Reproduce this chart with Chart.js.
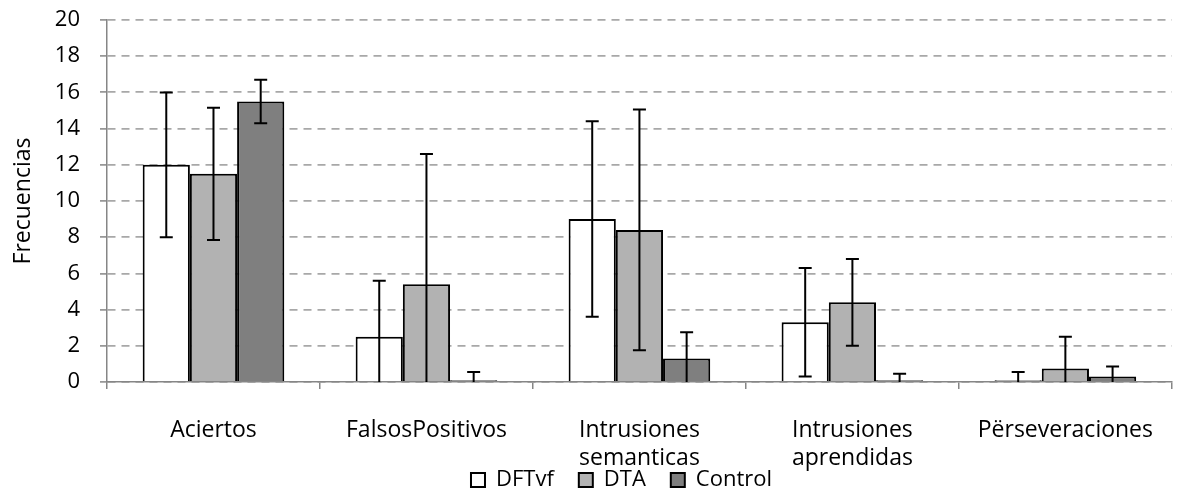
<!DOCTYPE html>
<html>
<head>
<meta charset="utf-8">
<script src="https://cdn.jsdelivr.net/npm/chart.js@4/dist/chart.umd.min.js"></script>
<style>
  html, body { margin: 0; padding: 0; background: #ffffff; }
  #wrap { width: 1181px; height: 493px; position: relative; }
</style>
</head>
<body>
<div id="wrap"><canvas id="chart" width="1181" height="493"></canvas></div>
<script>
// Categories of responses
const categories = [
  'Aciertos',
  'FalsosPositivos',
  ['Intrusiones', 'semanticas'],
  ['Intrusiones', 'aprendidas'],
  'Përseveraciones'
];

// Mean frequencies per group
const dftvf   = [12.0, 2.5, 9.0, 3.3, 0.1];
const dta     = [11.5, 5.4, 8.4, 4.4, 0.75];
const control = [15.5, 0.1, 1.3, 0.1, 0.3];

// Error bar half-lengths per group
const dftvfErr   = [4.0, 3.1, 5.4, 3.0, 0.45];
const dtaErr     = [3.65, 7.2, 6.65, 2.4, 1.75];
const controlErr = [1.2, 0.45, 1.45, 0.35, 0.55];

// Y axis ticks
const yTicks = [0, 2, 4, 6, 8, 10, 12, 14, 16, 18, 20];

const FONT = "'Open Sans', 'DejaVu Sans', sans-serif";
const AXIS_GRAY = '#868686';
const LEGEND_PAD = 25;
const LEGEND_FONT = 22;
const LEGEND_H = LEGEND_FONT + LEGEND_PAD + 10;
const PLOT_TOP = 20;
const PLOT_BOTTOM = 382;

// Draws symmetric error bars on top of each bar
const errorBars = {
  id: 'errorBars',
  afterDatasetsDraw(chart) {
    const {ctx, chartArea, scales: {y}} = chart;
    ctx.save();
    ctx.beginPath();
    ctx.rect(chartArea.left, chartArea.top - 2, chartArea.right - chartArea.left, chartArea.bottom - chartArea.top + 2);
    ctx.clip();
    ctx.strokeStyle = '#000000';
    ctx.lineWidth = 2;
    chart.data.datasets.forEach((ds, di) => {
      const meta = chart.getDatasetMeta(di);
      meta.data.forEach((bar, i) => {
        const v = ds.data[i];
        const e = ds.errors[i];
        const yTop = y.getPixelForValue(v + e);
        const yBot = y.getPixelForValue(v - e);
        const x = bar.x;
        const cap = 6.5;
        ctx.beginPath();
        ctx.moveTo(x, yTop); ctx.lineTo(x, yBot);
        ctx.moveTo(x - cap, yTop); ctx.lineTo(x + cap, yTop);
        ctx.moveTo(x - cap, yBot); ctx.lineTo(x + cap, yBot);
        ctx.stroke();
      });
    });
    ctx.restore();
  }
};

// Lets the legend sit over the lower part of the category labels
const legendPlacement = {
  id: 'legendPlacement',
  afterLayout(chart) {
    const lg = chart.legend;
    if (!lg) return;
    const dy = 444 - lg.top;
    const dx = 31;
    lg.top += dy; lg.bottom += dy;
    lg.left += dx; lg.right += dx;
  }
};

new Chart(document.getElementById('chart'), {
  type: 'bar',
  data: {
    labels: categories,
    datasets: [
      { label: 'DFTvf',   data: dftvf,   errors: dftvfErr,   backgroundColor: '#ffffff', borderColor: '#000000', borderWidth: 2 },
      { label: 'DTA',     data: dta,     errors: dtaErr,     backgroundColor: '#b2b2b2', borderColor: '#000000', borderWidth: 2 },
      { label: 'Control', data: control, errors: controlErr, backgroundColor: '#7f7f7f', borderColor: '#000000', borderWidth: 2 }
    ]
  },
  options: {
    responsive: false,
    animation: false,
    devicePixelRatio: 1,
    layout: { padding: { top: 0, right: 0, left: 0, bottom: -LEGEND_H } },
    datasets: { bar: { categoryPercentage: 0.665, barPercentage: 1.0 } },
    plugins: {
      legend: {
        position: 'bottom',
        labels: {
          color: '#000000',
          font: { family: FONT, size: LEGEND_FONT },
          boxWidth: 14,
          boxHeight: 14,
          padding: LEGEND_PAD
        }
      },
      tooltip: { enabled: false }
    },
    scales: {
      x: {
        offset: true,
        grid: {
          offset: true,
          drawOnChartArea: false,
          drawTicks: true,
          tickLength: 7,
          color: AXIS_GRAY,
          lineWidth: 1.5
        },
        border: { display: true, color: AXIS_GRAY, width: 1.5 },
        ticks: {
          color: '#000000',
          font: { family: FONT, size: 23, lineHeight: 1.2 },
          padding: 28,
          maxRotation: 0,
          autoSkip: false
        },
        afterFit(scale) {
          const legendH = scale.chart.legend ? scale.chart.legend.height : 0;
          scale.height = 493 - PLOT_BOTTOM - legendH + LEGEND_H;
        }
      },
      y: {
        min: 0,
        max: 20,
        afterBuildTicks(scale) {
          scale.ticks = yTicks.map(v => ({ value: v }));
        },
        afterFit(scale) {
          scale.width = 107;
          // plot top edge sits PLOT_TOP px below the canvas top
          scale.paddingTop = PLOT_TOP;
        },
        grid: {
          color: '#a8a8a8',
          lineWidth: 1.8,
          tickLength: 7,
          tickColor: AXIS_GRAY,
          tickWidth: 1.5,
          tickBorderDash: []
        },
        border: { display: true, color: AXIS_GRAY, width: 1.5, dash: [8, 6] },
        ticks: {
          color: '#000000',
          font: { family: FONT, size: 22 },
          padding: 20
        },
        title: {
          display: true,
          text: 'Frecuencias',
          color: '#000000',
          font: { family: FONT, size: 23 },
          padding: { top: 10, bottom: 0 }
        }
      }
    }
  },
  plugins: [errorBars, legendPlacement]
});
</script>
</body>
</html>
